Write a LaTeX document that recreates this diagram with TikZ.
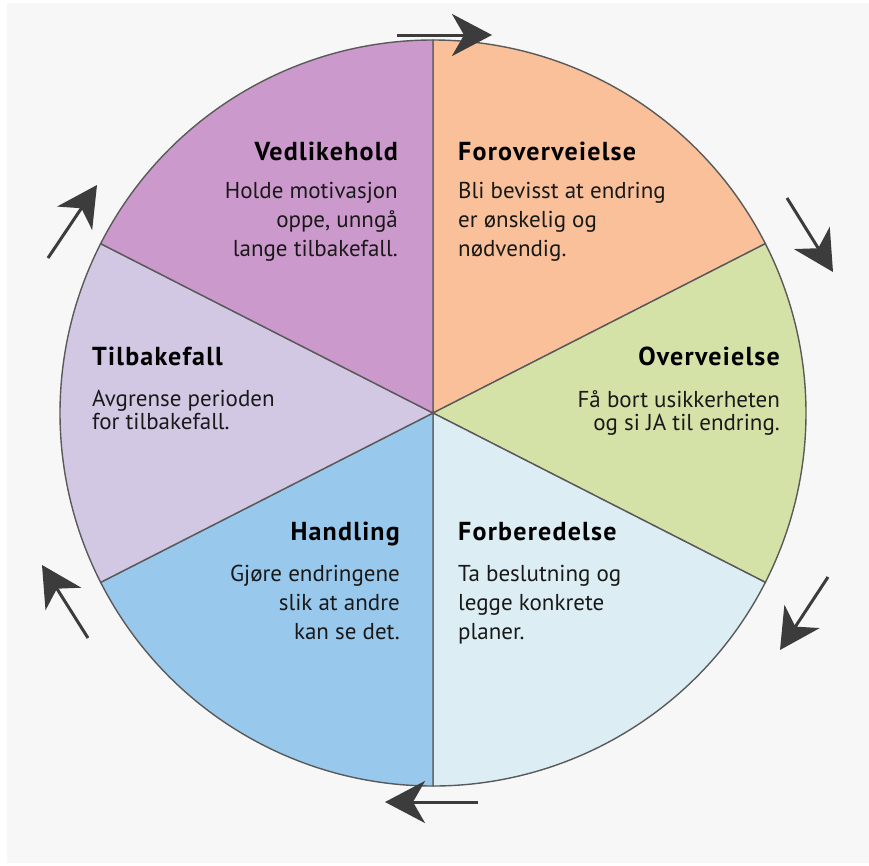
\documentclass[tikz,border=0pt]{standalone}
\usepackage{fontspec}
\setmainfont{PT Sans}
\usetikzlibrary{arrows.meta,positioning}
\definecolor{cForov}{RGB}{249,192,154}
\definecolor{cOverv}{RGB}{212,226,168}
\definecolor{cForb}{RGB}{220,238,244}
\definecolor{cHand}{RGB}{152,200,236}
\definecolor{cTilb}{RGB}{210,200,228}
\definecolor{cVedl}{RGB}{204,153,204}
\definecolor{cLine}{RGB}{90,90,90}
\definecolor{cArrow}{RGB}{60,60,60}
\definecolor{cBack}{RGB}{247,247,247}

\begin{document}
\begin{tikzpicture}[
    x=1pt, y=-1pt,
    head/.style={font=\fontsize{26}{28}\selectfont\bfseries\addfontfeature{LetterSpace=4.7}, inner sep=0pt, text=black},
    body/.style={font=\fontsize{23}{29}\selectfont, inner sep=0pt, text=black!90},
    bodytight/.style={body, font=\fontsize{23}{23}\selectfont},
    sector/.style={draw=cLine, line width=1.4pt},
    turn/.style={-{Stealth[length=40pt, width=42pt, inset=12pt]}, line width=3pt, cArrow}
]
\useasboundingbox[fill=white] (0,0) rectangle (869,865);
\fill[cBack] (7,3) rectangle (869,863);

% wheel
\coordinate (c) at (433,413);
\def\rad{373}
\filldraw[sector, fill=cForov] (c) -- ++(-90:\rad) arc[start angle=-90, end angle=-27, radius=\rad] -- cycle;
\filldraw[sector, fill=cOverv] (c) -- ++(-27:\rad) arc[start angle=-27, end angle=27, radius=\rad] -- cycle;
\filldraw[sector, fill=cForb] (c) -- ++(27:\rad) arc[start angle=27, end angle=90, radius=\rad] -- cycle;
\filldraw[sector, fill=cHand] (c) -- ++(90:\rad) arc[start angle=90, end angle=153, radius=\rad] -- cycle;
\filldraw[sector, fill=cTilb] (c) -- ++(153:\rad) arc[start angle=153, end angle=207, radius=\rad] -- cycle;
\filldraw[sector, fill=cVedl] (c) -- ++(207:\rad) arc[start angle=207, end angle=270, radius=\rad] -- cycle;

% stages
\node[head, anchor=base west] (forov) at (458,160) {Foroverveielse};
\node[body, align=left, below=22pt of forov.base west, anchor=north west] (forovtxt) {Bli bevisst at endring\\er ønskelig og\\nødvendig.};

\node[head, anchor=base east] (overv) at (780,365) {Overveielse};
\node[bodytight, align=right, below=25pt of overv.base east, anchor=north east] (overvtxt) {Få bort usikkerheten\\og si JA til endring.};

\node[head, anchor=base west] (forb) at (458,540) {Forberedelse};
\node[body, align=left, below=25pt of forb.base west, anchor=north west] (forbtxt) {Ta beslutning og\\legge konkrete\\planer.};

\node[head, anchor=base east] (hand) at (400,540) {Handling};
\node[body, align=right, below=25pt of hand.base east, anchor=north east] (handtxt) {Gjøre endringene\\slik at andre\\kan se det.};

\node[head, anchor=base west] (tilb) at (92,365) {Tilbakefall};
\node[bodytight, align=left, below=25pt of tilb.base west, anchor=north west] (tilbtxt) {Avgrense perioden\\for tilbakefall.};

\node[head, anchor=base east] (vedl) at (398,160) {Vedlikehold};
\node[body, align=right, below=22pt of vedl.base east, anchor=north east] (vedltxt) {Holde motivasjon\\oppe, unngå\\lange tilbakefall.};

% direction arrows
\coordinate (topA) at (397,35);   \coordinate (topB) at (492,35);
\coordinate (trA) at (787,198);   \coordinate (trB) at (833,272);
\coordinate (brA) at (828,577);   \coordinate (brB) at (780,650);
\coordinate (botA) at (478,802);  \coordinate (botB) at (385,802);
\coordinate (blA) at (88,638);    \coordinate (blB) at (42,565);
\coordinate (tlA) at (48,258);    \coordinate (tlB) at (97,185);
\draw[turn] (topA) -- (topB);
\draw[turn] (trA) -- (trB);
\draw[turn] (brA) -- (brB);
\draw[turn] (botA) -- (botB);
\draw[turn] (blA) -- (blB);
\draw[turn] (tlA) -- (tlB);
\end{tikzpicture}
\end{document}
